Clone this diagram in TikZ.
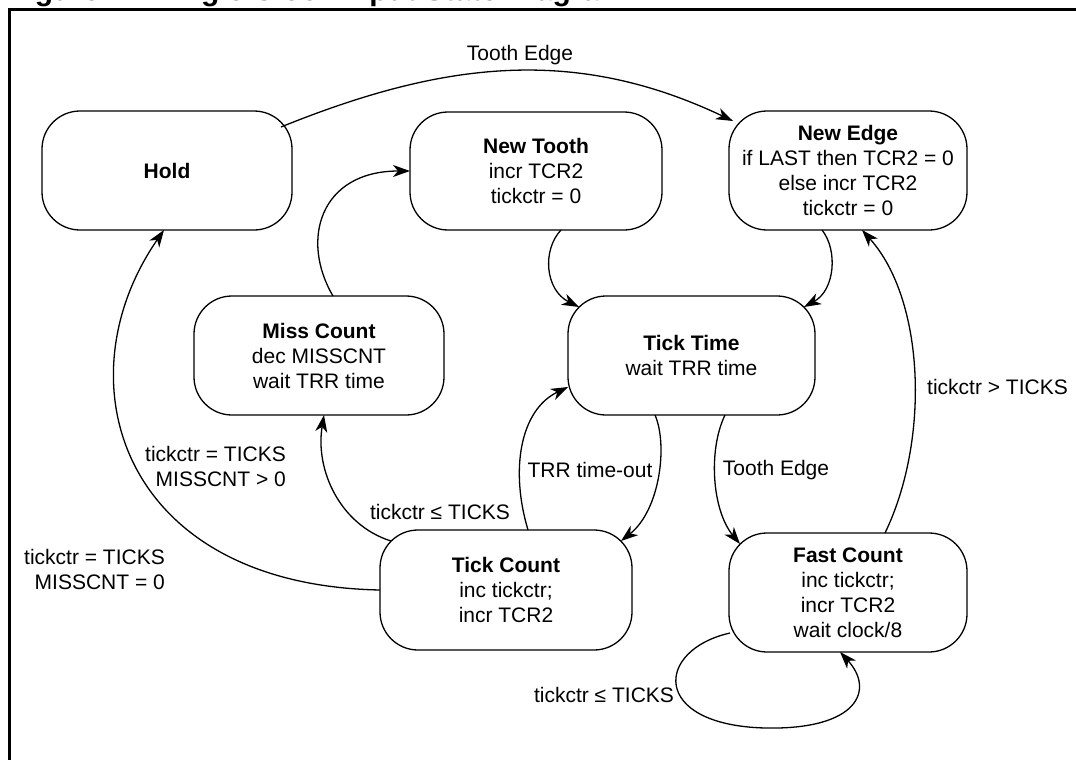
\documentclass[tikz,border=0pt]{standalone}
\usepackage{fontspec}
\setmainfont{Liberation Sans}
\usetikzlibrary{arrows.meta,calc}
\begin{document}
\begin{tikzpicture}[x=1pt,y=-1pt,
  state/.style={draw, line width=1.3pt, rounded corners=38pt, align=center, inner sep=0pt, font=\fontsize{21}{25}\selectfont},
  lbl/.style={font=\fontsize{21}{25}\selectfont, inner sep=0pt},
  conn/.style={line width=1.3pt, -{Stealth[length=17pt,width=12pt,inset=5pt]}},
  frameline/.style={line width=3pt}]
\useasboundingbox (0,0) rectangle (1076,760);
% cut-off page title
\begin{scope}
\clip (0,0) rectangle (1076,760);
\node[anchor=base west, font=\bfseries\fontsize{30}{36}\selectfont, inner sep=0pt] (title) at (8,1) {Figure 12. Angle Clock Input State Diagram};
\end{scope}
\draw[frameline] (9.5,760) -- (9.5,9.5) -- (1076,9.5);
% states
\node[state, minimum width=250pt, minimum height=119pt] (hold) at (167,170.5) {\textbf{Hold}};
\node[state, minimum width=252pt, minimum height=118pt] (newtooth) at (536,171) {\textbf{New Tooth}\\incr TCR2\\tickctr = 0};
\node[state, minimum width=238pt, minimum height=119pt] (newedge) at (848,170.5) {\textbf{New Edge}\\if LAST then TCR2 = 0\\else incr TCR2\\tickctr = 0};
\node[state, minimum width=250pt, minimum height=119pt] (miss) at (319,355.5) {\textbf{Miss Count}\\dec MISSCNT\\wait TRR time};
\node[state, minimum width=247pt, minimum height=119pt] (ticktime) at (691.5,355.5) {\textbf{Tick Time}\\wait TRR time};
\node[state, minimum width=252pt, minimum height=120pt] (tickcount) at (506,590) {\textbf{Tick Count}\\inc tickctr;\\incr TCR2};
\node[state, minimum width=238pt, minimum height=119pt] (fast) at (848,592.5) {\textbf{Fast Count}\\inc tickctr;\\incr TCR2\\wait clock/8};
% connectors
\draw[conn] ($(hold.center)+(114,-43.5)$) .. controls (444,61) and (575,46) .. ($(newedge.center)+(-115,-49.5)$);
\draw[conn] ($(miss.center)+(14,-59.5)$) .. controls (300,240) and (320,171) .. ($(newtooth.center)+(-126,0)$);
\draw[conn] ($(newtooth.center)+(25,59)$) .. controls (542,250) and (545,290) .. ($(ticktime.center)+(-112.5,-48.5)$);
\draw[conn] ($(newedge.center)+(-26,59.5)$) .. controls (838,250) and (835,290) .. ($(ticktime.center)+(112.5,-48.5)$);
\draw[conn] ($(ticktime.center)+(-36.5,59.5)$) .. controls (668,445) and (660,510) .. ($(tickcount.center)+(115,-49)$);
\draw[conn] ($(ticktime.center)+(33.5,59.5)$) .. controls (708,450) and (712,510) .. ($(fast.center)+(-108,-48.5)$);
\draw[conn] ($(tickcount.center)+(22,-60)$) .. controls (510,470) and (520,410) .. ($(ticktime.center)+(-123.5,31.5)$);
\draw[conn] ($(tickcount.center)+(-115,-49)$) .. controls (340,525) and (315,470) .. ($(miss.center)+(5,59.5)$);
\draw[conn] ($(tickcount.center)+(-126,0)$) .. controls (120,585) and (60,380) .. ($(hold.center)+(-3,59.5)$);
\draw[conn] ($(fast.center)+(37,-59.5)$) .. controls (930,440) and (925,300) .. ($(newedge.center)+(14,59.5)$);
\draw[conn] ($(fast.center)+(-118,40.5)$) .. controls (655,650) and (650,725) .. (765,728) .. controls (858,730) and (875,690) .. ($(fast.center)+(-8,59.5)$);
% labels
\node[lbl] (l1) at (520,55) {Tooth Edge};
\node[lbl] (l2) at (997.5,387) {tickctr > TICKS};
\node[lbl] (l3) at (590,470) {TRR time-out};
\node[lbl] (l4) at (776,470) {Tooth Edge};
\node[lbl] (l5) at (440,512) {tickctr ≤ TICKS};
\node[lbl, align=right, anchor=east] (l6) at (286,466) {tickctr = TICKS\\MISSCNT > 0};
\node[lbl, align=right, anchor=east] (l7) at (165,569.5) {tickctr = TICKS\\MISSCNT = 0};
\node[lbl] (l8) at (604,695) {tickctr ≤ TICKS};
\end{tikzpicture}
\end{document}
